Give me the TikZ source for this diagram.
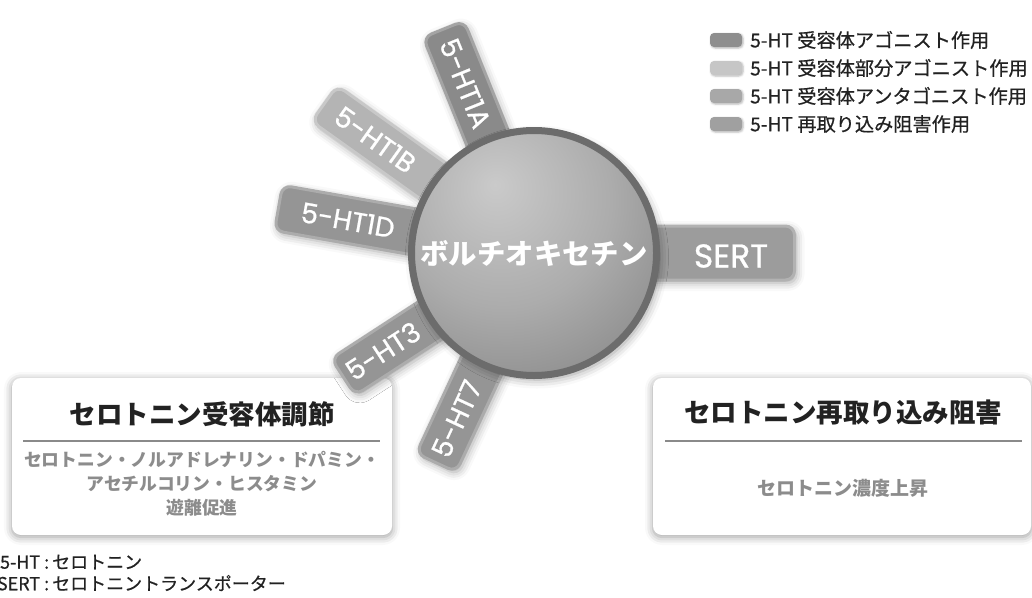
\documentclass[tikz,border=0pt]{standalone}
\usepackage{fontspec}
\setmainfont{Noto Sans CJK JP}
\newfontfamily\medium{Noto Sans CJK JP}[FakeBold=0.6]
\newfontfamily\latin{Poppins}[FakeBold=0.8]
\usetikzlibrary{calc,shadows.blur}
\definecolor{agon}{HTML}{8A8A8A}
\definecolor{agonB}{HTML}{A4A4A4}
\definecolor{part}{HTML}{B4B4B4}
\definecolor{partB}{HTML}{C8C8C8}
\definecolor{anta}{HTML}{959595}
\definecolor{antaB}{HTML}{ACACAC}
\definecolor{reup}{HTML}{9C9C9C}
\definecolor{reupB}{HTML}{B2B2B2}
\definecolor{legA}{HTML}{8E8E8E}
\definecolor{legP}{HTML}{C6C6C6}
\definecolor{legN}{HTML}{A8A8A8}
\definecolor{legR}{HTML}{A0A0A0}
\definecolor{ballhi}{HTML}{CACACA}
\definecolor{ballmid}{HTML}{ACACAC}
\definecolor{balllo}{HTML}{868686}
\definecolor{balledge}{HTML}{6C6C6C}
\definecolor{darktext}{HTML}{222222}
\definecolor{greytext}{HTML}{8C8C8C}
\definecolor{rule}{HTML}{8A8A8A}
\pgfdeclareradialshading{sphere}{\pgfpoint{-8bp}{14bp}}{color(0bp)=(ballhi);color(22bp)=(ballmid);color(42bp)=(balllo);color(50bp)=(balledge);color(100bp)=(balledge)}
\tikzset{
  tabbar/.style={rectangle, rounded corners=9pt, line width=3pt, inner sep=0pt, anchor=west,
    blur shadow={shadow xshift=2pt, shadow yshift=-3pt, shadow blur radius=8pt, shadow opacity=35}},
  tablabel/.style={text=white, inner sep=0pt, font=\latin\fontsize{27.5}{27.5}\selectfont},
  legbox/.style={rectangle, rounded corners=4pt, minimum width=32pt, minimum height=14pt, inner sep=0pt,
    blur shadow={shadow xshift=1pt, shadow yshift=-1pt, shadow blur radius=2pt, shadow opacity=30}},
  legtext/.style={anchor=west, inner sep=0pt, text=darktext, font=\medium\fontsize{19.2}{19.2}\selectfont},
  panel/.style={rectangle, rounded corners=9pt, fill=white, inner sep=0pt,
    blur shadow={shadow xshift=0pt, shadow yshift=-2pt, shadow blur radius=8pt, shadow opacity=40}},
  paneltitle/.style={inner sep=0pt, text=darktext, font=\bfseries\fontsize{26.5}{26.5}\selectfont},
  panelsub/.style={inner sep=0pt, text=greytext, align=center, font=\bfseries\fontsize{17.8}{24}\selectfont},
  sepline/.style={draw=rule, line width=2.5pt},
  foot/.style={anchor=west, inner sep=0pt, text=darktext, font=\medium\fontsize{18}{18}\selectfont}
}
\begin{document}
\begin{tikzpicture}[x=1pt,y=1pt]
\useasboundingbox (0,0) rectangle (1032,-597);
\coordinate (C) at (534,-253);
% panels (under the tabs)
\node[panel, minimum width=380pt, minimum height=157pt] (lbox) at (202,-456.5) {};
\node[panel, minimum width=378pt, minimum height=157pt] (rbox) at (842,-456.5) {};
% receptor tabs
\node[tabbar, fill=agon, draw=agonB, minimum width=240pt, minimum height=44pt, rotate=112] (t1a) at (C) {};
\node[tabbar, fill=part, draw=partB, minimum width=256pt, minimum height=44pt, rotate=144.5] (t1b) at (C) {};
\node[tabbar, fill=anta, draw=antaB, minimum width=258pt, minimum height=46pt, rotate=170] (t1d) at (C) {};
\node[tabbar, fill=anta, draw=antaB, minimum width=226pt, minimum height=44pt, rotate=213] (t3) at (C) {};
\node[tabbar, fill=anta, draw=antaB, minimum width=230pt, minimum height=44pt, rotate=245] (t7) at (C) {};
\node[tabbar, fill=reup, draw=reupB, minimum width=259pt, minimum height=54pt, rotate=0] (tsert) at (C) {};
% central sphere
\node[circle, minimum size=245pt, inner sep=0pt, shade, shading=sphere, draw=balledge, line width=7pt,
  blur shadow={shadow xshift=3pt, shadow yshift=-4pt, shadow blur radius=9pt, shadow opacity=40}] (vor) at (C) {};
\node[text=white, inner sep=0pt, font=\bfseries\fontsize{28.4}{28.4}\selectfont] (vortxt) at (C) {ボルチオキセチン};
% tab labels
\node[tablabel, rotate=-68] (l1a) at ($(C)+(112:183)$) {5-HT1A};
\node[tablabel, rotate=-35.5] (l1b) at ($(C)+(144.5:195)$) {5-HT1B};
\node[tablabel, rotate=-10] (l1d) at ($(C)+(170:189)$) {5-HT1D};
\node[tablabel, rotate=33] (l3) at ($(C)+(213:180)$) {5-HT3};
\node[tablabel, rotate=65] (l7) at ($(C)+(245:183)$) {5-HT7};
\node[text=white, inner sep=0pt, font=\latin\fontsize{33}{33}\selectfont] (lsert) at (731,-256) {SERT};
% legend
\node[legbox, fill=legA] (g1) at (726,-40) {};
\node[legtext] (gt1) at (750,-40) {5-HT 受容体アゴニスト作用};
\node[legbox, fill=legP] (g2) at (726,-68) {};
\node[legtext] (gt2) at (750,-68) {5-HT 受容体部分アゴニスト作用};
\node[legbox, fill=legN] (g3) at (726,-96) {};
\node[legtext] (gt3) at (750,-96) {5-HT 受容体アンタゴニスト作用};
\node[legbox, fill=legR] (g4) at (726,-124) {};
\node[legtext] (gt4) at (750,-124) {5-HT 再取り込み阻害作用};
% left panel texts
\node[paneltitle] (ltitle) at (202,-414) {セロトニン受容体調節};
\draw[sepline] (23,-441) -- (380,-441);
\node[panelsub] (lsub) at (202,-484) {セロトニン・ノルアドレナリン・ドパミン・\\アセチルコリン・ヒスタミン\\遊離促進};
% right panel texts
\node[paneltitle] (rtitle) at (843,-412) {セロトニン再取り込み阻害};
\draw[sepline] (665,-441) -- (1022,-441);
\node[panelsub, font=\bfseries\fontsize{19}{19}\selectfont] (rsub) at (843,-488) {セロトニン濃度上昇};
% footnotes
\node[foot] (f1) at (-10,-562) {\makebox[50pt][r]{5-HT}\hspace{4pt}:\hspace{3pt}セロトニン};
\node[foot] (f2) at (-10,-583) {\makebox[50pt][r]{SERT}\hspace{4pt}:\hspace{3pt}セロトニントランスポーター};
\end{tikzpicture}
\end{document}
